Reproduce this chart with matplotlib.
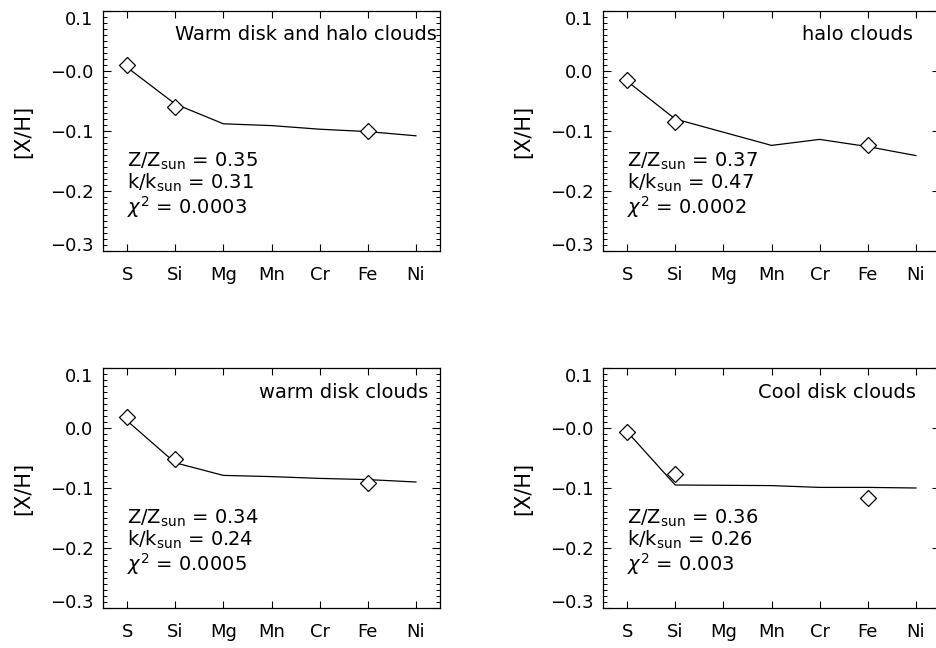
import matplotlib
matplotlib.use('Agg')
from matplotlib import pyplot as plt
from matplotlib.ticker import FixedLocator, FixedFormatter, MultipleLocator

elements = ['S', 'Si', 'Mg', 'Mn', 'Cr', 'Fe', 'Ni']
observed_elements = ['S', 'Si', 'Fe']

# observed depletions [X/H] for S, Si, Fe
warm_halo_obs = [0.010, -0.060, -0.100]
halo_obs = [-0.015, -0.085, -0.124]
warm_disk_obs = [0.018, -0.052, -0.092]
cool_disk_obs = [-0.007, -0.077, -0.116]

# best-fit model curves over all elements
warm_halo_model = [0.006, -0.055, -0.088, -0.091, -0.097, -0.101, -0.108]
halo_model = [-0.017, -0.080, -0.102, -0.124, -0.114, -0.126, -0.141]
warm_disk_model = [0.012, -0.058, -0.079, -0.081, -0.084, -0.086, -0.090]
cool_disk_model = [-0.006, -0.095, -0.0955, -0.096, -0.099, -0.099, -0.100]

titles = ['Warm disk and halo clouds', 'halo clouds',
          'warm disk clouds', 'Cool disk clouds']
z_ratio = [0.35, 0.37, 0.34, 0.36]
k_ratio = [0.31, 0.47, 0.24, 0.26]
chi2 = ['0.0003', '0.0002', '0.0005', '0.003']

y_ticks = [-0.3, -0.2, -0.1, 0.0, 0.1]
y_labels_neg0 = ['\u22120.3', '\u22120.2', '\u22120.1', '\u22120.0', '0.1']
y_labels_pos0 = ['\u22120.3', '\u22120.2', '\u22120.1', '0.0', '0.1']

plt.rcParams['font.family'] = 'DejaVu Sans'
plt.rcParams['mathtext.fontset'] = 'dejavusans'

fig = plt.figure(figsize=(9.36, 6.48), dpi=100)
w, h = 337 / 936, 240 / 648
positions = [(103 / 936, 397 / 648), (603 / 936, 397 / 648),
             (103 / 936, 40 / 648), (603 / 936, 40 / 648)]
obs = [warm_halo_obs, halo_obs, warm_disk_obs, cool_disk_obs]
models = [warm_halo_model, halo_model, warm_disk_model, cool_disk_model]
ylabels = [y_labels_neg0, y_labels_pos0, y_labels_pos0, y_labels_neg0]
title_x = [0.991, 0.92, 0.964, 0.929]

xpos = list(range(len(elements)))
obs_x = [elements.index(e) for e in observed_elements]

for i in range(4):
    ax = fig.add_axes([positions[i][0], positions[i][1], w, h])
    ax.plot(xpos, models[i], color='black', lw=0.9)
    ax.plot(obs_x, obs[i], linestyle='none', marker='D', markersize=8,
            markerfacecolor='white', markeredgecolor='black', markeredgewidth=0.9)

    ax.set_xlim(-0.5, len(elements) - 0.5)
    ax.set_ylim(-0.3, 0.1)
    ax.xaxis.set_major_locator(FixedLocator(xpos))
    ax.xaxis.set_major_formatter(FixedFormatter(elements))
    ax.yaxis.set_major_locator(FixedLocator(y_ticks))
    ax.yaxis.set_major_formatter(FixedFormatter(ylabels[i]))
    ax.yaxis.set_minor_locator(MultipleLocator(0.01))
    ax.tick_params(axis='both', which='both', direction='in',
                   top=True, right=True, labelsize=13, width=0.8)
    ax.tick_params(axis='x', which='major', length=5, pad=11)
    ax.tick_params(axis='y', which='major', length=6, pad=7)
    ax.tick_params(axis='y', which='minor', length=3, width=0.7)
    for s in ax.spines.values():
        s.set_linewidth(0.9)

    # end labels sit inside the axis range
    ticklabels = ax.get_yticklabels()
    ticklabels[0].set_va('baseline')
    ticklabels[-1].set_va('top')

    ax.set_ylabel('[X/H]', fontsize=15)
    ax.yaxis.set_label_coords(-0.208, 0.5)

    ax.text(title_x[i], 0.9, titles[i], transform=ax.transAxes,
            ha='right', va='center', fontsize=14)

    tr = ax.get_xaxis_transform()
    ax.text(0, 0.375, r'Z/Z$_{\mathrm{sun}}$ = %.2f' % z_ratio[i],
            transform=tr, ha='left', va='center', fontsize=14)
    ax.text(0, 0.283, r'k/k$_{\mathrm{sun}}$ = %.2f' % k_ratio[i],
            transform=tr, ha='left', va='center', fontsize=14)
    ax.text(0, 0.183, r'$\chi^{2}$ = ' + chi2[i],
            transform=tr, ha='left', va='center', fontsize=14)

fig.savefig('out.png', dpi=100)
